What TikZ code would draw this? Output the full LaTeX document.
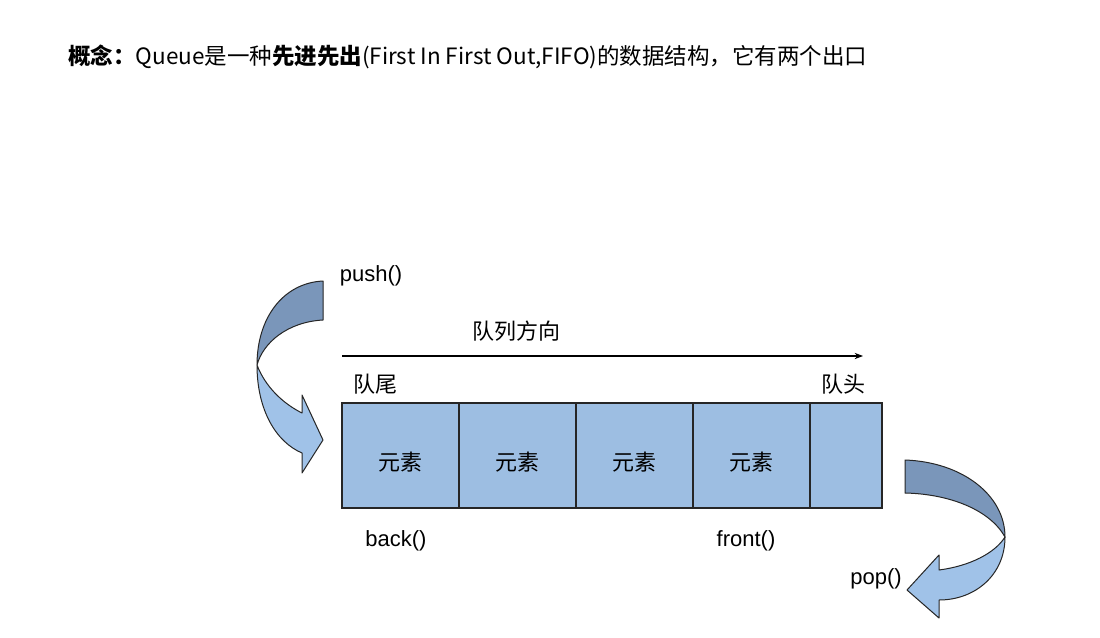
\documentclass[tikz,border=0pt]{standalone}
\usepackage{fontspec}
\setmainfont{Liberation Sans}
\newfontfamily\cjk{Noto Sans CJK SC}
\usetikzlibrary{arrows.meta}

\definecolor{cellblue}{RGB}{157,190,226}
\definecolor{bandlight}{RGB}{160,194,232}
\definecolor{banddark}{RGB}{122,150,186}

\tikzset{
  cell/.style={draw=black!85, line width=1.2pt, fill=cellblue, minimum height=105,
    inner sep=0pt, outer sep=0pt, font=\cjk\fontsize{22}{26}\selectfont},
  cnlabel/.style={font=\cjk\fontsize{22}{26}\selectfont},
  fnlabel/.style={font=\fontsize{22}{26}\selectfont},
  band/.style={draw=black!85, line width=1pt, line join=round},
}

\begin{document}
\begin{tikzpicture}[>=Stealth, x=1pt, y=-1pt]
  %================= Parameters (edit these) =================
  \def\xleft{342}   % left edge of the queue
  \def\cw{117}      % width of one cell
  \def\ytop{403}    % top of the cells
  \def\ybot{508}    % bottom of the cells
  \pgfmathsetmacro{\ymid}{(\ytop+\ybot)/2}
  \useasboundingbox[fill=white] (0,0) rectangle (1100,637);

  %================= Heading =================
  \node[anchor=west, inner sep=0pt, font=\cjk\fontsize{22.5}{27}\selectfont] (concept) at (68,57)
    {\textbf{概念：}Queue是一种\textbf{先进先出}(First In First Out,FIFO)的数据结构，它有两个出口};

  %================= Cells =================
  \foreach \i in {1,...,4}{
    \pgfmathsetmacro{\xc}{\xleft+(\i-0.5)*\cw}
    \node[cell, minimum width=\cw] (cell\i) at (\xc,\ymid) {};
    \node[cnlabel] (elem\i) at (\xc,\ymid+7) {元素};
  }
  % narrow last cell at the head
  \node[cell, minimum width=72] (cell5) at (\xleft+4*\cw+36,\ymid) {};

  %================= Direction arrow =================
  \coordinate (dirL) at (\xleft,356);
  \coordinate (dirR) at (863,356);
  \draw[->, line width=1.2pt] (dirL) -- (dirR);
  \node[cnlabel] (dirtext) at (516,331) {队列方向};

  %================= End labels =================
  \node[cnlabel] (tail) at (375,384) {队尾};
  \node[cnlabel] (head) at (843,384) {队头};
  \node[fnlabel] (back) at (396,541) {back()};
  \node[fnlabel] (front) at (746,541) {front()};
  \node[fnlabel] (push) at (371,276) {push()};
  \node[fnlabel] (pop) at (876,579) {pop()};

  %================= push() curved arrow =================
  % dark (back) face of the band
  \draw[band, fill=banddark]
    (323,281) .. controls (283,283) and (257,318) .. (257,365)
    .. controls (263,343) and (287,322) .. (323,320) -- cycle;
  % light (front) face with the head
  \draw[band, fill=bandlight]
    (257,365) .. controls (257,410) and (276,442) .. (302,453)
    -- (302,473) -- (323,440) -- (302,395) -- (302,413)
    .. controls (282,403) and (265,386) .. (257,365) -- cycle;

  %================= pop() curved arrow =================
  \draw[band, fill=banddark]
    (905,460) .. controls (962,462) and (1005,495) .. (1005,537)
    .. controls (990,510) and (950,494) .. (905,493) -- cycle;
  \draw[band, fill=bandlight]
    (1005,537) .. controls (1005,575) and (975,600) .. (939,600)
    -- (939,618) -- (907,590) -- (939,555) -- (939,570)
    .. controls (970,566) and (995,553) .. (1005,537) -- cycle;

\end{tikzpicture}
\end{document}
